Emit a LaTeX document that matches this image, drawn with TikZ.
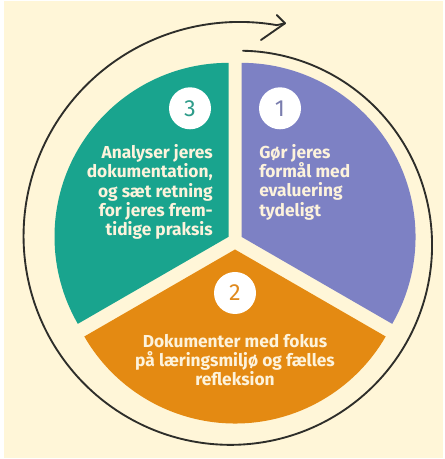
\documentclass[tikz,border=0pt]{standalone}
\usepackage{fontspec}
\setmainfont{Fira Sans}
\definecolor{bg}{HTML}{FFF6D8}
\definecolor{grn}{HTML}{19A48E}
\definecolor{purp}{HTML}{7D81C4}
\definecolor{orng}{HTML}{E48A12}
\definecolor{txt}{HTML}{FDF3DC}
\definecolor{n3col}{HTML}{2E9C8A}
\definecolor{n1col}{HTML}{7A7DAE}
\definecolor{n2col}{HTML}{E08A1E}
\definecolor{ink}{HTML}{2E2E2A}
\begin{document}
\begin{tikzpicture}[x=0.75pt,y=0.75pt,
  lab/.style={text=txt, font=\bfseries\fontsize{13}{14.5}\selectfont, inner sep=0pt},
  num/.style={circle, fill=white, minimum size=31.5pt, inner sep=0pt, font=\fontsize{17.5}{17.5}\selectfont},
  loop/.style={draw=ink, line width=1.4pt, line cap=round, line join=round}]
\useasboundingbox (0,0) rectangle (444,459);
\fill[white] (0,0) rectangle (444,459);
\fill[bg] (4,0.5) rectangle (443,458);
% sectors
\fill[purp] (241.5,222.15) -- ++(-30:174) arc[start angle=-30, end angle=90, radius=174] -- cycle;
\fill[orng] (235,209.5) -- ++(210:174) arc[start angle=210, end angle=330, radius=174] -- cycle;
\fill[grn] (228.5,222.15) -- ++(90:174) arc[start angle=90, end angle=210, radius=174] -- cycle;
% spiral arrow
\coordinate (tip) at (285,435.7);
\coordinate (barbA) at (276.7,444);
\coordinate (barbB) at (261,419);
\draw[loop, shift={(235,218.4)}] plot[domain=87.6:-281, samples=240, smooth] (\x:{190+0.08*(87.6-\x)}) -- (tip);
\draw[loop] (barbA) -- (tip) -- (barbB);
% numbers
\node[num, text=n3col] (n3) at (190,350.7) {3};
\node[num, text=n1col] (n1) at (280,350.7) {1};
\node[num, text=n2col] (n2) at (235,166) {2};
% texts
\node[lab, align=right, anchor=east] (t3) at (213,267) {Analyser jeres\\dokumentation,\\og sæt retning\\for jeres frem-\\tidige praksis};
\node[lab, align=left, anchor=west] (t1) at (259,277) {Gør jeres\\formål med\\evaluering\\tydeligt};
\node[lab, align=center] (t2) at (235,99) {Dokumenter med fokus\\på læringsmiljø og fælles\\refleksion};
\end{tikzpicture}
\end{document}
